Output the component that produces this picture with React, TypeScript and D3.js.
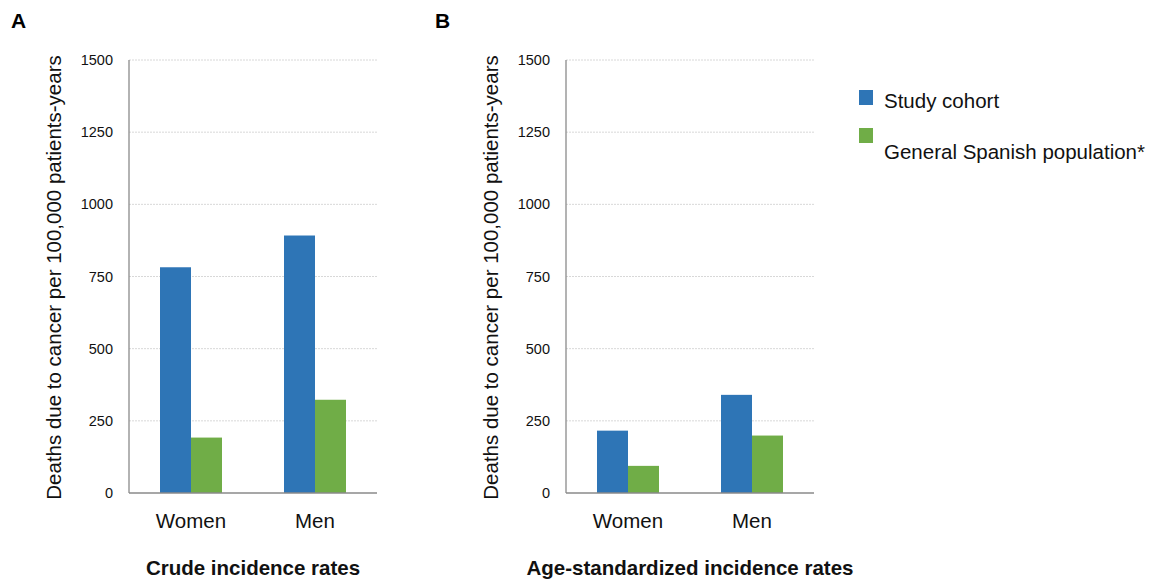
import React from "react";
import * as d3 from "d3";

const categories = ["Women", "Men"];
const seriesNames = ["Study cohort", "General Spanish population*"];
const crudeCohort = [782, 892];
const crudeSpanish = [192, 323];
const stdCohort = [216, 340];
const stdSpanish = [94, 199];
const yTicks = [0, 250, 500, 750, 1000, 1250, 1500];
const yTitle = "Deaths due to cancer per 100,000 patients-years";
const panels = [
  { letter: "A", title: "Crude incidence rates", values: [crudeCohort, crudeSpanish] },
  { letter: "B", title: "Age-standardized incidence rates", values: [stdCohort, stdSpanish] },
];
const colors = ["#2E75B6", "#70AD47"];

const FONT = "'Liberation Sans', Arial, Helvetica, sans-serif";

function Panel({ x0, letterX, panel }: { x0: number; letterX: number; panel: any }) {
  const top = 60, bottom = 493, w = 248;
  const y = d3.scaleLinear().domain([0, 1500]).range([bottom, top]);
  const xb = d3.scaleBand().domain(categories).range([x0, x0 + w]).paddingInner(0).paddingOuter(0);
  const xs = d3.scaleBand().domain(["0", "1"]).range([0, xb.bandwidth() / 2]);
  return (
    <g>
      <text x={letterX} y={28} fontFamily={FONT} fontWeight="bold" fontSize={21}>{panel.letter}</text>
      {yTicks.map((t) => (
        <g key={t}>
          {t > 0 && (
            <line x1={x0} x2={x0 + w} y1={y(t)} y2={y(t)} stroke="#d8d8d8" strokeWidth={1} strokeDasharray="2,1" />
          )}
          <text x={x0 - 16} y={y(t)} dy="0.35em" textAnchor="end" fontFamily={FONT} fontSize={14.5} fill="#111">{t}</text>
        </g>
      ))}
      {categories.map((c, i) => (
        <g key={c}>
          {panel.values.map((vals: number[], s: number) => (
            <rect
              key={s}
              x={(xb(c) as number) + xb.bandwidth() / 4 + (xs(String(s)) as number)}
              y={y(vals[i])}
              width={xs.bandwidth()}
              height={y(0) - y(vals[i])}
              fill={colors[s]}
            />
          ))}
          <text x={(xb(c) as number) + xb.bandwidth() / 2} y={528} textAnchor="middle" fontFamily={FONT} fontSize={20.5} fill="#111">{c}</text>
        </g>
      ))}
      <line x1={x0} x2={x0} y1={top} y2={bottom} stroke="#8a8a8a" strokeWidth={1.3} />
      <line x1={x0} x2={x0 + w} y1={bottom} y2={bottom} stroke="#8a8a8a" strokeWidth={1.3} />
      <text
        transform={`translate(${x0 - 68},${(top + bottom) / 2 + 1}) rotate(-90)`}
        textAnchor="middle"
        fontFamily={FONT}
        fontSize={20.5}
        fill="#111"
      >{yTitle}</text>
      <text x={x0 + w / 2} y={575} textAnchor="middle" fontFamily={FONT} fontWeight="bold" fontSize={20.5} fill="#111">{panel.title}</text>
    </g>
  );
}

export default function App() {
  return (
    <svg width={1154} height={583} style={{ position: "absolute", left: 0, top: 0, background: "#fff" }}>
      <rect width={1154} height={583} fill="#fff" />
      <Panel x0={129} letterX={11} panel={panels[0]} />
      <Panel x0={566} letterX={435} panel={panels[1]} />
      {seriesNames.map((s, i) => (
        <g key={s}>
          <rect x={859} y={90 + i * 38} width={14} height={15} fill={colors[i]} />
          <text x={884} y={108 + i * 51} fontFamily={FONT} fontSize={20.5} fill="#111">{s}</text>
        </g>
      ))}
    </svg>
  );
}
